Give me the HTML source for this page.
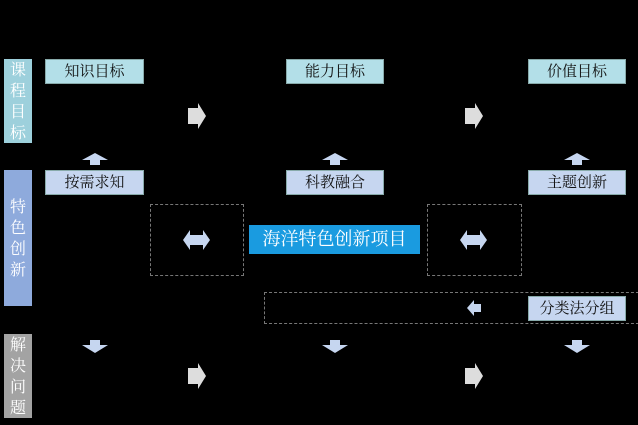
<!DOCTYPE html>
<html><head><meta charset="utf-8"><style>
body{margin:0;width:638px;height:425px;background:#000;position:relative;overflow:hidden;font-family:"Liberation Serif","Noto Serif CJK SC",serif}
.a{position:absolute;box-sizing:border-box}
.side{width:28px;color:#fff;font-size:16px;line-height:21px;text-align:center;padding-top:2px;display:flex;flex-direction:column;justify-content:center}
.bx{height:25px;font-size:15px;text-align:center;line-height:25px;color:#111;border:1px solid #8aa}
.t{background:#b3dfe8}.p{background:#c6d6f0}
.d{border:1px dashed #777}
svg{position:absolute}
</style></head><body>
<div class="a side" style="left:4px;top:59px;height:84px;background:#9dd0dc">课<br>程<br>目<br>标</div>
<div class="a side" style="left:4px;top:170px;height:136px;background:#8eaadc">特<br>色<br>创<br>新</div>
<div class="a side" style="left:4px;top:334px;height:84px;background:#a3a3a3">解<br>决<br>问<br>题</div>

<div class="a bx t" style="left:45px;top:59px;width:99px">知识目标</div>
<div class="a bx t" style="left:286px;top:59px;width:98px">能力目标</div>
<div class="a bx t" style="left:528px;top:59px;width:98px">价值目标</div>
<div class="a bx p" style="left:45px;top:170px;width:99px">按需求知</div>
<div class="a bx p" style="left:286px;top:170px;width:98px">科教融合</div>
<div class="a bx p" style="left:528px;top:170px;width:98px">主题创新</div>

<div class="a d" style="left:150px;top:204px;width:94px;height:72px"></div>
<div class="a d" style="left:427px;top:204px;width:95px;height:72px"></div>
<div class="a d" style="left:264px;top:292px;width:380px;height:32px"></div>
<div class="a" style="left:249px;top:225px;width:171px;height:29px;background:#1a9be0;color:#fff;font-size:18px;line-height:29px;text-align:center">海洋特色创新项目</div>
<div class="a bx p" style="left:528px;top:296px;width:98px;height:25px">分类法分组</div>

<svg width="638" height="425" style="left:0;top:0">
<g fill="#ddd">
<polygon points="188,108 198,108 198,103 206,116 198,129 198,124 188,124"/>
<polygon points="465,108 475,108 475,103 483,116 475,129 475,124 465,124"/>
<polygon points="188,368 198,368 198,363 206,376 198,389 198,384 188,384"/>
<polygon points="465,368 475,368 475,363 483,376 475,389 475,384 465,384"/>
</g>
<g fill="#c6d6f0">
<polygon points="82,160 95,153 108,160 100,160 100,165 90,165 90,160"/>
<polygon points="322,160 335,153 348,160 340,160 340,165 330,165 330,160"/>
<polygon points="564,160 577,153 590,160 582,160 582,165 572,165 572,160"/>
<polygon points="82,345 90,345 90,340 100,340 100,345 108,345 95,353"/>
<polygon points="322,345 330,345 330,340 340,340 340,345 348,345 335,353"/>
<polygon points="564,345 572,345 572,340 582,340 582,345 590,345 577,353"/>
<polygon points="183,240 190,230 190,235 203,235 203,230 210,240 203,250 203,245 190,245 190,250"/>
<polygon points="460,240 467,230 467,235 480,235 480,230 487,240 480,250 480,245 467,245 467,250"/>
<polygon points="467,308 474,300 474,304 481,304 481,312 474,312 474,316"/>
</g>
</svg>
</body></html>
